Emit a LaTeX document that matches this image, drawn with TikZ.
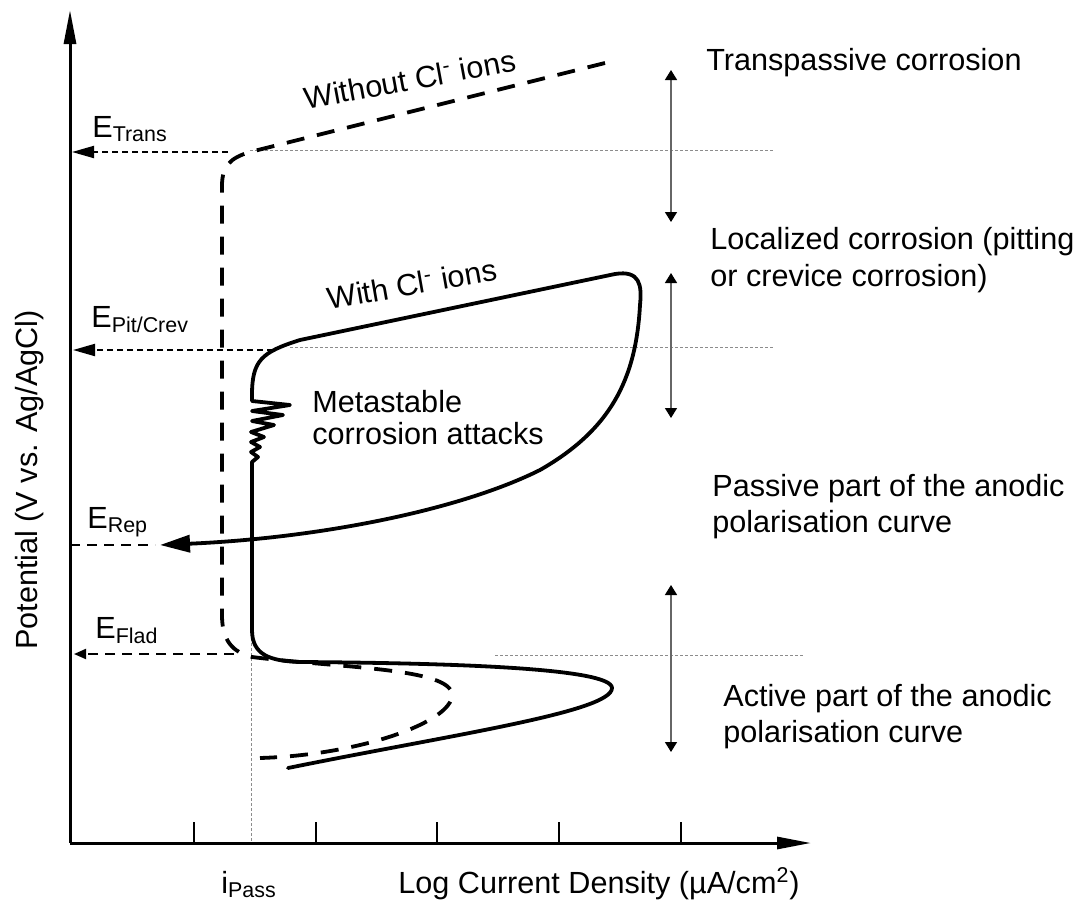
\documentclass[tikz,border=0pt]{standalone}
\usepackage{fontspec}
\setmainfont{Liberation Sans}
\usepackage{tikz}
\usetikzlibrary{arrows.meta}
\usetikzlibrary{positioning}

\tikzset{
	lbl/.style={font=\fontsize{15.3}{18}\selectfont, inner sep=0pt},
	axisline/.style={line width=1.5pt, -{Triangle[length=17pt,width=6pt]}},
	withcl/.style={line width=1.9pt, line join=round, line cap=round},
	withoutcl/.style={line width=1.9pt, dash pattern=on 9pt off 6.5pt},
	elevel/.style={line width=1pt, dash pattern=on 3pt off 2pt, -{Triangle[length=11pt,width=6pt]}},
	eshort/.style={line width=1pt, dash pattern=on 5pt off 3.5pt},
	guide/.style={black!45, line width=0.5pt, dash pattern=on 1.5pt off 1pt},
	span/.style={black!60, line width=0.7pt, {Triangle[length=5pt,width=6pt,color=black]}-{Triangle[length=5pt,width=6pt,color=black]}},
}

\begin{document}
\begin{tikzpicture}[x=0.5pt,y=-0.5pt]
	\useasboundingbox (0,0) rectangle (1083,906);

	% axes
	\coordinate (O) at (70,843);
	\coordinate (ytop) at (70,10);
	\coordinate (xend) at (811,843);
	\draw[axisline] (O) -- (ytop);
	\draw[axisline] (O) -- (xend);
	\foreach \x in {194,316,437,559,681}
		\draw[line width=0.7pt] (\x,843) -- (\x,822);

	\node[lbl, rotate=90, anchor=base] (ylab) at (37,480) {Potential (V vs. Ag/AgCl)};
	\node[lbl, anchor=base west] (ipass) at (221,893) {i\textsubscript{Pass}};
	\node[lbl, anchor=base west] (xlab) at (398,893) {Log Current Density (µA/cm\textsuperscript{2})};

	% guide lines
	\coordinate (gTransA) at (250,150);  \coordinate (gTransB) at (775,150);
	\coordinate (gPitA) at (290,347);    \coordinate (gPitB) at (775,347);
	\coordinate (gFladA) at (495,655);   \coordinate (gFladB) at (805,655);
	\coordinate (gPassA) at (251,638);   \coordinate (gPassB) at (251,843);
	\draw[guide] (gTransA) -- (gTransB);
	\draw[guide] (gPitA) -- (gPitB);
	\draw[guide] (gFladA) -- (gFladB);
	\draw[guide] (gPassA) -- (gPassB);

	% potential levels
	\coordinate (eTransA) at (228,152);  \coordinate (eTransB) at (72,152);
	\coordinate (ePitA) at (273,350);    \coordinate (ePitB) at (73,350);
	\coordinate (eRepA) at (70,545);     \coordinate (eRepB) at (155,545);
	\coordinate (eFladA) at (234,654);   \coordinate (eFladB) at (74,654);
	\draw[elevel] (eTransA) -- (eTransB);
	\draw[elevel] (ePitA) -- (ePitB);
	\draw[eshort] (eRepA) -- (eRepB);
	\draw[eshort, -{Triangle[length=6pt,width=5pt]}] (eFladA) -- (eFladB);

	\node[lbl, anchor=base west] (eTrans) at (92,137) {E\textsubscript{Trans}};
	\node[lbl, anchor=base west] (ePit) at (91,327) {E\textsubscript{Pit/Crev}};
	\node[lbl, anchor=base west] (eRep) at (87,528) {E\textsubscript{Rep}};
	\node[lbl, anchor=base west] (eFlad) at (95,638) {E\textsubscript{Flad}};

	% curve without Cl- ions
	\draw[withoutcl] (605,63) -- (250,152)
		.. controls (230,158) and (222,166) .. (222,186) -- (222,615)
		.. controls (222,640) and (232,652) .. (252,657)
		.. controls (340,668) and (452,668) .. (452,695)
		.. controls (452,722) and (360,755) .. (260,758);

	% curve with Cl- ions
	\draw[withcl, -{Triangle[length=15pt,width=8.5pt]}] (288,768)
		.. controls (450,735) and (612,712) .. (612,688)
		.. controls (612,668) and (450,663) .. (300,662)
		.. controls (270,661) and (252,655) .. (252,630) -- (252,462)
		-- (258,457) -- (251,452) -- (260,447) -- (251,442) -- (264,437) -- (251,432)
		-- (274,425) -- (252,421) -- (283,415) -- (252,411) -- (290,405) -- (252,401)
		-- (252,395)
		.. controls (252,360) and (262,352) .. (300,340) -- (615,274)
		.. controls (640,270) and (642,285) .. (640,305)
		.. controls (636,380) and (610,430) .. (540,470)
		.. controls (460,510) and (320,538) .. (160,545);

	\node[lbl, rotate=10.5, anchor=base] (without) at (412,90) {Without Cl\textsuperscript{-} ions};
	\node[lbl, rotate=10, anchor=base] (with) at (414,295) {With Cl\textsuperscript{-} ions};
	\node[lbl, anchor=north west, align=left, font=\fontsize{15.3}{16.2}\selectfont] (meta) at (312,390) {Metastable\\corrosion attacks};

	% regions
	\coordinate (sTransA) at (671,70);   \coordinate (sTransB) at (671,222);
	\coordinate (sLocA) at (671,273);    \coordinate (sLocB) at (671,418);
	\coordinate (sActA) at (671,585);    \coordinate (sActB) at (671,752);
	\draw[span] (sTransA) -- (sTransB);
	\draw[span] (sLocA) -- (sLocB);
	\draw[span] (sActA) -- (sActB);

	\node[lbl, anchor=base west] (trans) at (706,70) {Transpassive corrosion};
	\node[lbl, anchor=north west, align=left, font=\fontsize{15.3}{18.5}\selectfont] (local) at (710,227) {Localized corrosion (pitting\\or crevice corrosion)};
	\node[lbl, anchor=north west, align=left] (passive) at (712,474) {Passive part of the anodic\\polarisation curve};
	\node[lbl, anchor=north west, align=left] (active) at (723,684) {Active part of the anodic\\polarisation curve};
\end{tikzpicture}
\end{document}
